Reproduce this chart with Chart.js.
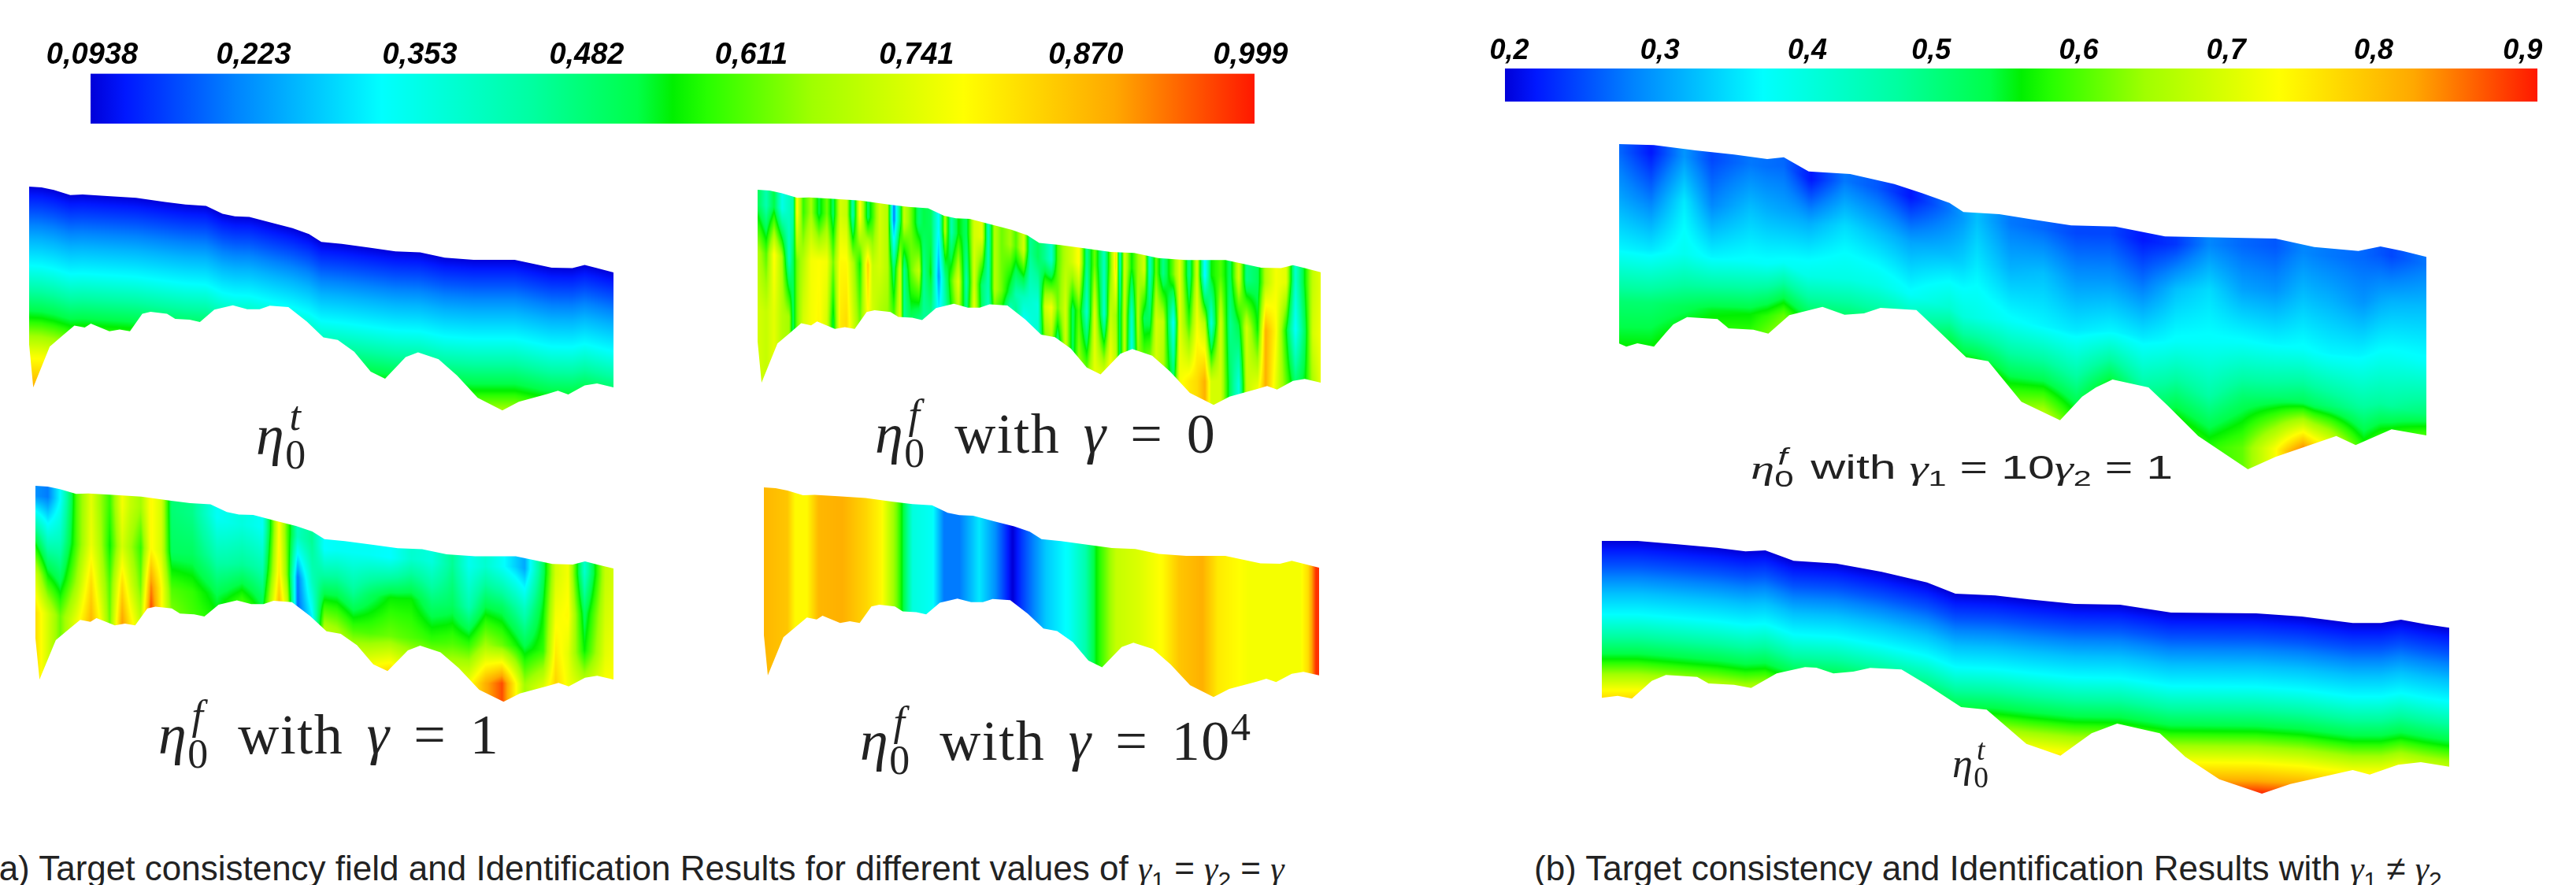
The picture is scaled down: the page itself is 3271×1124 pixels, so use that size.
<!DOCTYPE html>
<html>
<head>
  <meta charset="UTF-8">
  <title>Target consistency field and Identification Results</title>
  <script src="https://cdn.jsdelivr.net/npm/chart.js"></script>
  <style>
    html, body { margin: 0; background: #fff; }
    body { position: relative; width: 3271px; height: 1124px; overflow: hidden; }
    canvas { position: absolute; }
    canvas.soft { filter: blur(0.7px); }
    .lbl { position: absolute; white-space: nowrap; color: #222; font-family: "Liberation Serif", serif; line-height: 1; }
    .lbl i { font-family: "Liberation Serif", serif; }
    .ss { display: inline-block; position: relative; width: .48em; height: 0; }
    .ss b { position: absolute; left: 0; font-weight: normal; font-size: .72em; line-height: 1; }
    .ss .up { top: -1.42em; left: .1em; font-style: italic; }
    .ss .dn { top: -.49em; }
    .big { font-size: 72px; word-spacing: 10px; letter-spacing: 1.5px; }
    .small { font-family: "Liberation Sans", sans-serif; font-size: 42px; transform: scaleX(1.45); transform-origin: left; }
    .cap { font-family: "Liberation Sans", sans-serif; font-size: 44px; }
    .cap sub, .small sub { font-size: .68em; line-height: 0; }
    .cap i, .small i { font-family: "Liberation Serif", serif; }
  </style>
</head>
<body>

  <canvas id="barA"></canvas>
  <canvas id="barB"></canvas>
  <canvas id="fieldA1" class="soft"></canvas>
  <canvas id="fieldA2" class="soft"></canvas>
  <canvas id="fieldA3" class="soft"></canvas>
  <canvas id="fieldA4" class="soft"></canvas>
  <canvas id="fieldB1" class="soft"></canvas>
  <canvas id="fieldB2" class="soft"></canvas>

  <div class="lbl big" style="left:325px;top:517px"><i>η</i><span class="ss"><b class="up">t</b><b class="dn">0</b></span></div>
  <div class="lbl big" style="left:1111px;top:515px"><i>η</i><span class="ss"><b class="up">f</b><b class="dn">0</b></span> with <i>γ</i> = 0</div>
  <div class="lbl big" style="left:201px;top:897px"><i>η</i><span class="ss"><b class="up">f</b><b class="dn">0</b></span> with <i>γ</i> = 1</div>
  <div class="lbl big" style="left:1092px;top:905px"><i>η</i><span class="ss"><b class="up">f</b><b class="dn">0</b></span> with <i>γ</i> = 10<sup style="font-size:.7em;line-height:0">4</sup></div>
  <div class="lbl small" style="left:2223px;top:573px"><i>η</i><span class="ss"><b class="up">f</b><b class="dn">0</b></span> with <i>γ</i><sub>1</sub> = 10<i>γ</i><sub>2</sub> = 1</div>
  <div class="lbl big" style="left:2479px;top:944px;font-size:52px"><i>η</i><span class="ss"><b class="up">t</b><b class="dn">0</b></span></div>
  <div class="lbl cap" style="left:-16px;top:1081px">(a) Target consistency field and Identification Results for different values of <i>γ</i><sub>1</sub> = <i>γ</i><sub>2</sub> = <i>γ</i></div>
  <div class="lbl cap" style="left:1948px;top:1081px">(b) Target consistency and Identification Results with <i>γ</i><sub>1</sub> ≠ <i>γ</i><sub>2</sub></div>

  <script>
    // colour map shared by both legends
    const mapStops = [0, 0.03, 0.125, 0.25, 0.38, 0.47, 0.5, 0.53, 0.62, 0.75, 0.88, 1];
    const mapColors = ['#0000d8', '#0018ff', '#0084ff', '#00ffff', '#00ffa0', '#00ff48', '#00f000', '#28ff00', '#a0ff00', '#ffff00', '#ffa800', '#ff1800'];

    // legends
    const barARange = [0.0938, 0.999];
    const barATicks = [0.095, 0.2206, 0.3498, 0.4796, 0.6076, 0.7362, 0.8678, 0.9959];
    const barALabels = ['0,0938', '0,223', '0,353', '0,482', '0,611', '0,741', '0,870', '0,999'];
    const barBRange = [0.2, 0.9];
    const barBTicks = [0.203, 0.305, 0.405, 0.489, 0.589, 0.689, 0.789, 0.89];
    const barBLabels = ['0,2', '0,3', '0,4', '0,5', '0,6', '0,7', '0,8', '0,9'];

    // domain outlines, distance along the section / depth
    const leftTopX = [0,30,60,100,130,190,260,330,380,430,470,500,535,590,640,680,710,760,830,890,950,1010,1080,1180,1270,1320,1350,1380,1420];
    const leftTopY = [0,3,13,32,30,36,43,58,68,73,103,113,115,138,158,180,210,218,233,246,250,270,278,278,308,310,298,310,326];
    const leftBottomX = [0,10,50,80,110,135,150,195,220,245,275,295,335,355,390,415,450,495,530,560,585,630,675,715,750,790,830,865,915,945,995,1040,1090,1150,1190,1260,1285,1310,1350,1380,1420];
    const leftBottomY = [600,763,608,568,528,536,521,550,543,550,483,476,483,503,506,515,468,451,466,466,453,458,513,573,583,628,703,730,648,630,656,718,803,851,818,788,776,790,756,748,763];

    const upperTopX = [0,63,138,208,268,298,343,418,498,548,598,623,688,748,818,898,988,1188,1258,1338,1378,1418,1461];
    const upperTopY = [0,4,24,40,57,50,104,114,152,187,224,259,267,287,310,314,352,360,392,407,390,407,430];
    const upperBottomX = [0,13,33,63,83,98,123,178,198,243,270,308,368,408,443,473,538,573,628,668,728,798,838,863,893,958,993,1048,1138,1188,1298,1333,1398,1461];
    const upperBottomY = [760,772,759,772,722,687,659,667,702,707,722,652,620,650,645,624,632,702,812,827,982,1052,962,927,897,927,997,1112,1239,1192,1112,1147,1087,1110];

    const lowerTopX = [0,63,133,203,253,288,338,413,493,573,623,693,753,833,913,1003,1153,1233,1323,1373,1408,1453,1493];
    const lowerTopY = [0,0,13,26,40,36,76,86,118,158,201,208,223,240,243,273,276,288,313,313,300,318,331];
    const lowerBottomX = [0,28,53,88,113,168,188,233,263,308,358,378,408,443,473,528,573,633,678,748,808,863,908,983,1028,1088,1163,1213,1323,1353,1403,1443,1493];
    const lowerBottomY = [598,590,601,533,511,518,543,548,560,505,481,483,505,498,484,490,548,633,643,773,818,733,696,733,823,908,963,926,873,890,853,843,860];

    // consistency values: columns along the section, rows by depth below the top edge
    const targetADepths = [0, 100, 200, 300, 400, 500, 570, 640, 760];
    const targetAValues = [[0.095, 0.17, 0.25, 0.32, 0.44, 0.55, 0.66, 0.76, 0.88]];

    const gamma0Columns = [1,11,21,31,40,45,50,58,68,78,88,96,105,113,121,130,140,146,155,165,173,181,186,195,205,211,220,230,238,246,255,265,275,285,293,301,310,321,328,338,346,356,365,373,381,391,400,408,418,428,440,448,455,460,466,475,483,491,498,506,515,528,536,548,558,568,576,588,600,611,621,635,645,658,671,683,695,705,715];
    const gamma0Depths = [60, 250, 480];
    const gamma0Values = [[.5,.68,.72],[.42,.6,.7],[.52,.78,.74],[.35,.66,.68],[.4,.4,.66],[.42,.5,.5],[.78,.62,.62],[.58,.68,.72],[.66,.76,.76],[.52,.77,.78],[.62,.76,.72],[.5,.62,.52],[.72,.78,.8],[.7,.78,.82],[.42,.68,.72],[.78,.55,.62],[.5,.84,.76],[.58,.7,.72],[.72,.72,.66],[.68,.68,.64],[.2,.48,.62],[.5,.72,.74],[.7,.45,.45],[.62,.62,.48],[.48,.7,.42],[.52,.45,.45],[.5,.55,.42],[.32,.22,.38],[.68,.45,.38],[.42,.6,.5],[.55,.74,.62],[.5,.42,.5],[.72,.72,.78],[.74,.48,.5],[.4,.42,.36],[.68,.68,.5],[.62,.62,.42],[.66,.5,.14],[.6,.42,.55],[.72,.4,.22],[.45,.38,.32],[.5,.36,.4],[.45,.72,.55],[.38,.76,.6],[.6,.62,.36],[.68,.72,.7],[.72,.5,.5],[.78,.6,.66],[.45,.38,.62],[.62,.74,.74],[.4,.38,.72],[.62,.7,.78],[.82,.66,.7],[.4,.5,.5],[.72,.7,.7],[.55,.38,.32],[.65,.68,.62],[.72,.5,.66],[.4,.5,.7],[.62,.72,.72],[.46,.7,.66],[.62,.32,.5],[.74,.74,.76],[.46,.58,.8],[.72,.76,.82],[.3,.68,.88],[.55,.36,.72],[.6,.72,.72],[.5,.45,.5],[.72,.52,.36],[.46,.72,.7],[.5,.55,.75],[.68,.88,.88],[.76,.78,.74],[.74,.55,.62],[.38,.32,.5],[.55,.5,.55],[.7,.72,.66],[.74,.76,.74]];

    const gamma1Columns = [0,30,60,100,135,155,180,210,230,255,280,305,330,380,440,500,550,590,610,635,670,700,730,770,810,860,910,960,1010,1050,1090,1130,1185,1230,1260,1290,1330,1380,1400];
    const gamma1Depths = [40, 200, 350, 500];
    const gamma1Values = [[.22,.5,.72,.82],[.2,.38,.55,.72],[.32,.4,.5,.62],[.6,.6,.66,.75],[.74,.75,.82,.87],[.66,.68,.72,.78],[.58,.55,.6,.62],[.76,.72,.82,.9],[.7,.66,.72,.8],[.66,.58,.62,.7],[.78,.78,.92,1],[.72,.72,.78,.78],[.48,.5,.6,.65],[.46,.5,.58,.6],[.33,.42,.52,.58],[.36,.45,.6,.62],[.33,.42,.52,.62],[.78,.8,.88,.9],[.6,.62,.72,.8],[.4,.2,.18,.2],[.45,.4,.3,.55],[.32,.5,.68,.78],[.33,.5,.66,.76],[.33,.45,.6,.78],[.33,.5,.6,.8],[.32,.55,.62,.84],[.38,.55,.6,.76],[.36,.48,.58,.74],[.45,.5,.6,.74],[.34,.42,.58,.76],[.38,.52,.66,.88],[.33,.5,.62,.96],[.24,.4,.52,.66],[.5,.55,.58,.74],[.72,.76,.8,.84],[.76,.78,.74,.76],[.38,.5,.55,.72],[.7,.72,.74,.78],[.72,.74,.76,.78]];

    const gamma4Columns = [0,60,80,110,140,200,260,300,340,360,380,430,460,500,550,590,635,660,720,780,820,850,900,960,1020,1060,1120,1160,1240,1370,1390,1410,1418];
    const gamma4Depths = [0];
    const gamma4Values = [[.87],[.85],[.78],[.78],[.87],[.88],[.83],[.78],[.62],[.5],[.36],[.33],[.2],[.2],[.3],[.22],[.09],[.15],[.27],[.33],[.42],[.55],[.7],[.73],[.78],[.85],[.88],[.8],[.76],[.76],[.82],[.98],[.98]];

    const mixedColumns = [0,58,118,168,238,298,348,408,468,528,598,648,708,768,828,888,948,1008,1068,1128,1188,1238,1288,1348,1398,1461];
    const mixedDepths = [30, 200, 400, 600, 800];
    const mixedValues = [[.27,.31,.37,.5,.56],[.22,.28,.36,.5,.56],[.3,.36,.39,.52,.6],[.25,.29,.37,.54,.62],[.28,.33,.38,.55,.62],[.27,.31,.38,.6,.72],[.22,.32,.4,.56,.6],[.28,.35,.4,.55,.6],[.26,.33,.4,.54,.6],[.22,.31,.38,.54,.6],[.28,.33,.42,.6,.68],[.33,.36,.4,.58,.7],[.28,.32,.38,.52,.68],[.27,.33,.37,.52,.72],[.25,.3,.36,.48,.6],[.25,.3,.37,.55,.7],[.22,.28,.36,.47,.58],[.24,.33,.38,.5,.62],[.29,.35,.38,.46,.57],[.27,.31,.38,.5,.6],[.26,.3,.37,.5,.72],[.29,.33,.38,.52,.88],[.28,.32,.37,.5,.78],[.27,.3,.37,.47,.6],[.25,.32,.38,.47,.66],[.28,.33,.38,.5,.72]];

    const targetBDepths = [0, 100, 200, 280, 360, 450, 570, 630, 690];
    const targetBValues = [[0.2, 0.26, 0.33, 0.375, 0.46, 0.55, 0.725, 0.8, 0.9]];

    const colorRGB = mapColors.map(c => [1, 3, 5].map(i => parseInt(c.substr(i, 2), 16)));

    function colormap(t) {
      t = Math.min(1, Math.max(0, t));
      let i = 0;
      while (i < mapStops.length - 2 && t > mapStops[i + 1]) i++;
      const f = (t - mapStops[i]) / (mapStops[i + 1] - mapStops[i]);
      return colorRGB[i].map((c, k) => c + (colorRGB[i + 1][k] - c) * f);
    }

    function locate(list, v) {
      if (list.length < 2 || v <= list[0]) return [0, 0, 0];
      for (let i = 0; i < list.length - 1; i++) {
        if (v <= list[i + 1]) return [i, i + 1, (v - list[i]) / (list[i + 1] - list[i])];
      }
      return [list.length - 1, list.length - 1, 0];
    }

    function outlineAt(xs, ys, x) {
      const [a, b, f] = locate(xs, x);
      return ys[a] + (ys[b] - ys[a]) * f;
    }

    function sizeCanvas(id, box) {
      const c = document.getElementById(id);
      c.width = box[2];
      c.height = box[3];
      c.style.left = box[0] + 'px';
      c.style.top = box[1] + 'px';
      return c;
    }

    function makeBar(id, box, padLeft, padRight, fontSize, tickPad, range, ticks, labels) {
      const barPaint = {
        id: 'barPaint',
        afterLayout(chart) {
          const area = chart.chartArea;
          const g = chart.ctx.createLinearGradient(area.left, 0, area.right, 0);
          mapStops.forEach((s, i) => g.addColorStop(s, mapColors[i]));
          chart.data.datasets[0].backgroundColor = g;
        }
      };
      new Chart(sizeCanvas(id, box), {
        type: 'bar',
        data: { labels: [''], datasets: [{ data: [range], barPercentage: 1, categoryPercentage: 1 }] },
        options: {
          indexAxis: 'y',
          responsive: false,
          animation: false,
          layout: { autoPadding: false, padding: { left: padLeft, right: padRight, top: 0, bottom: 0 } },
          plugins: { legend: { display: false }, tooltip: { enabled: false } },
          scales: {
            y: { display: false },
            x: {
              position: 'top',
              min: range[0],
              max: range[1],
              grid: { display: false, drawTicks: false },
              border: { display: false },
              afterBuildTicks: scale => { scale.ticks = ticks.map(v => ({ value: v })); },
              ticks: {
                autoSkip: false,
                maxRotation: 0,
                padding: tickPad,
                color: '#000',
                font: { family: 'Liberation Sans', size: fontSize, style: 'italic', weight: 'bold' },
                callback: (v, i) => labels[i]
              }
            }
          }
        },
        plugins: [barPaint]
      });
    }

    function makeField(id, box, xMax, yMax, topX, topY, bottomX, bottomY, columns, depths, values, range) {
      const fieldPaint = {
        id: 'fieldPaint',
        afterLayout(chart) {
          const w = chart.width, h = chart.height;
          const off = document.createElement('canvas');
          off.width = w;
          off.height = h;
          const octx = off.getContext('2d');
          const img = octx.createImageData(w, h);
          const lastCol = columns[columns.length - 1];
          for (let px = 0; px < w; px++) {
            const x = chart.scales.x.getValueForPixel(px + 0.5);
            const top = outlineAt(topX, topY, x);
            const [c0, c1, cf] = locate(columns, x / xMax * lastCol);
            for (let py = 0; py < h; py++) {
              const depth = chart.scales.y.getValueForPixel(py + 0.5) - top;
              const [r0, r1, rf] = locate(depths, depth);
              const a = values[c0][r0] + (values[c0][r1] - values[c0][r0]) * rf;
              const b = values[c1][r0] + (values[c1][r1] - values[c1][r0]) * rf;
              const v = a + (b - a) * cf;
              const rgb = colormap((v - range[0]) / (range[1] - range[0]));
              const k = (py * w + px) * 4;
              img.data[k] = rgb[0];
              img.data[k + 1] = rgb[1];
              img.data[k + 2] = rgb[2];
              img.data[k + 3] = 255;
            }
          }
          octx.putImageData(img, 0, 0);
          chart.data.datasets[0].backgroundColor = chart.ctx.createPattern(off, 'no-repeat');
        }
      };
      new Chart(sizeCanvas(id, box), {
        type: 'line',
        data: {
          datasets: [
            { data: topX.map((x, i) => ({ x: x, y: topY[i] })), fill: '+1', borderWidth: 0, pointRadius: 0, tension: 0 },
            { data: bottomX.map((x, i) => ({ x: x, y: bottomY[i] })), fill: false, borderWidth: 0, pointRadius: 0, tension: 0 }
          ]
        },
        options: {
          responsive: false,
          animation: false,
          layout: { padding: 0 },
          plugins: { legend: { display: false }, tooltip: { enabled: false } },
          scales: {
            x: { type: 'linear', display: false, min: 0, max: xMax },
            y: { type: 'linear', display: false, min: 0, max: yMax, reverse: true }
          }
        },
        plugins: [fieldPaint]
      });
    }

    makeBar('barA', [40, 48, 1620, 109], 75, 67, 38, 0, barARange, barATicks, barALabels);
    makeBar('barB', [1880, 45, 1390, 84], 31, 48, 36, 0, barBRange, barBTicks, barBLabels);

    makeField('fieldA1', [37, 237, 742, 285], 1420, 853, leftTopX, leftTopY, leftBottomX, leftBottomY, [0], targetADepths, targetAValues, barARange);
    makeField('fieldA2', [962, 241, 715, 274], 1420, 853, leftTopX, leftTopY, leftBottomX, leftBottomY, gamma0Columns, gamma0Depths, gamma0Values, barARange);
    makeField('fieldA3', [45, 617, 734, 275], 1420, 853, leftTopX, leftTopY, leftBottomX, leftBottomY, gamma1Columns, gamma1Depths, gamma1Values, barARange);
    makeField('fieldA4', [970, 619, 705, 267], 1420, 853, leftTopX, leftTopY, leftBottomX, leftBottomY, gamma4Columns, gamma4Depths, gamma4Values, barARange);
    makeField('fieldB1', [2056, 183, 1025, 413], 1461, 1239, upperTopX, upperTopY, upperBottomX, upperBottomY, mixedColumns, mixedDepths, mixedValues, barBRange);
    makeField('fieldB2', [2034, 687, 1076, 321], 1493, 963, lowerTopX, lowerTopY, lowerBottomX, lowerBottomY, [0], targetBDepths, targetBValues, barBRange);
  </script>

</body>
</html>
